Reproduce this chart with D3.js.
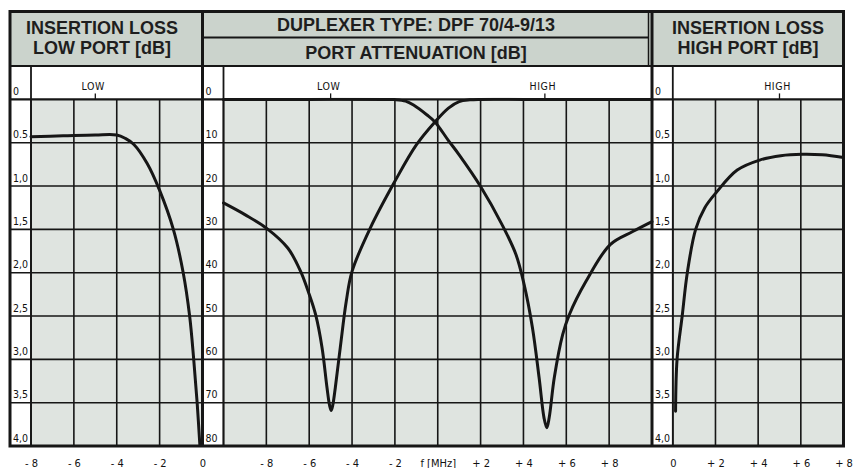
<!DOCTYPE html>
<html><head><meta charset="utf-8">
<script src="https://cdn.jsdelivr.net/npm/d3@7"></script>
<style>
html,body{margin:0;padding:0;background:#fff;}
svg{display:block;}
.ttl{font-family:"Liberation Sans",Arial,sans-serif;font-weight:bold;font-size:18px;fill:#1e1e1e;}
.lbl{font-family:"DejaVu Sans Condensed","DejaVu Sans",sans-serif;font-size:10.5px;fill:#111;}
.mk{font-family:"DejaVu Sans Condensed","DejaVu Sans",sans-serif;font-size:10.5px;fill:#111;letter-spacing:0.6px;}
</style></head>
<body>
<script>
// ---------------- DATA ----------------
const lowXTicks = [-8, -6, -4, -2, 0];
const lowXLabels = ["- 8", "- 6", "- 4", "- 2", "0"];
const midXTicks = [-10, -8, -6, -4, -2, 0, 2, 4, 6, 8, 10];
const midXLabelTicks = [-8, -6, -4, -2, 0, 2, 4, 6, 8];
const midXLabels = ["- 8", "- 6", "- 4", "- 2", "f [MHz]", "+ 2", "+ 4", "+ 6", "+ 8"];
const highXTicks = [0, 2, 4, 6, 8];
const highXLabels = ["0", "+ 2", "+ 4", "+ 6", "+ 8"];

const lossTicks = [0, 0.5, 1, 1.5, 2, 2.5, 3, 3.5, 4];
const lossLowLabels = ["0", "0.5", "1,0", "1,5", "2,0", "2,5", "3,0", "3,5", "4,0"];
const lossHighLabels = ["0", "0,5", "1,0", "1,5", "2,0", "2,5", "3,0", "3,5", "4,0"];
const attTicks = [0, 10, 20, 30, 40, 50, 60, 70, 80];
const attLabels = ["0", "10", "20", "30", "40", "50", "60", "70", "80"];

// insertion loss, low port
const lossLowF  = [-8, -6.5, -5, -4, -3.6, -3.2, -2.58, -2.0, -1.36, -0.9, -0.6, -0.41, -0.25, -0.12];
const lossLowDb = [0.43, 0.42, 0.41, 0.41, 0.45, 0.52, 0.74, 1.05, 1.5, 2.0, 2.5, 3.0, 3.5, 4.0];

// port attenuation, high port (notch at LOW frequency)
const attHighF  = [-10, -9, -8, -7, -6.4, -6, -5.7, -5.4, -5.17, -5.05, -4.97, -4.9, -4.78, -4.55, -4.27, -4, -3.15, -2, -1, -0.13, 0.5, 1, 1.5, 2, 4, 6, 8, 10];
const attHighDb = [23.9, 26.6, 29.7, 34.3, 39.7, 45, 49.7, 57.3, 66.5, 70.6, 71.8, 70.6, 66.5, 57.3, 46.6, 39.7, 29.7, 18.9, 10.5, 5.2, 2.0, 0.5, 0.1, 0, 0, 0, 0, 0];

// port attenuation, low port (notch at HIGH frequency)
const attLowF  = [-10, -6, -2.5, -2, -1.5, -1.13, -0.5, -0.13, 0.5, 1, 2, 3, 3.65, 4.03, 4.42, 4.73, 4.96, 5.09, 5.2, 5.44, 5.83, 6.14, 6.92, 8.05, 9.1, 10];
const attLowDb = [0, 0, 0, 0.05, 0.4, 1.3, 3.6, 5.2, 9.5, 12.8, 20.1, 28.9, 35.8, 42.7, 52.7, 64.2, 73.5, 75.8, 73.5, 64.2, 54.3, 49.7, 42, 33.5, 30.5, 28.2];

// insertion loss, high port
const lossHighF  = [0.13, 0.2, 0.44, 0.68, 1.07, 1.5, 2.05, 3.02, 4.07, 5.06, 6.07, 7.0, 8];
const lossHighDb = [3.6, 3.0, 2.5, 2.0, 1.5, 1.25, 1.07, 0.815, 0.70, 0.65, 0.634, 0.64, 0.67];

// ---------------- LAYOUT ----------------
const W = 853, H = 468;
const yTopFrame = 11.5, yHead = 66, yTop = 99.4, yBot = 446;
const headFill = "#cbd3cc", gridFill = "#dfe4e0", ink = "#161616";

const panels = [
  {x0: 10, lx: 31, x1: 202.5, xd: [-8, 0], yd: [0, 4], xt: lowXTicks, yt: lossTicks, yl: lossLowLabels,
   bt: lowXTicks, bl: lowXLabels, marks: [{f: -5, t: "LOW"}]},
  {x0: 202.5, lx: 223.5, x1: 652, xd: [-10, 10], yd: [0, 80], xt: midXTicks, yt: attTicks, yl: attLabels,
   bt: midXLabelTicks, bl: midXLabels, marks: [{f: -5, t: "LOW"}, {f: 5, t: "HIGH"}]},
  {x0: 652, lx: 672.8, x1: 843.5, xd: [0, 8], yd: [0, 4], xt: highXTicks, yt: lossTicks, yl: lossHighLabels,
   bt: highXTicks, bl: highXLabels, marks: [{f: 5, t: "HIGH"}]}
];

const svg = d3.select("body").append("svg").attr("width", W).attr("height", H);
const defs = svg.append("defs");

panels.forEach((p, i) => {
  p.x = d3.scaleLinear().domain(p.xd).range([p.lx, p.x1]);
  p.y = d3.scaleLinear().domain(p.yd).range([yTop, yBot]);
  p.clip = "clip" + i;
  defs.append("clipPath").attr("id", p.clip).append("rect")
    .attr("x", p.lx - 4).attr("y", yTop - 1.6).attr("width", p.x1 - p.lx + 8).attr("height", yBot - yTop + 1.6);
});

// header fills
svg.append("rect").attr("x", 10).attr("y", yTopFrame).attr("width", 833.5).attr("height", yHead - yTopFrame).attr("fill", headFill);

// grid fills
panels.forEach(p => {
  svg.append("rect").attr("x", p.lx).attr("y", yTop).attr("width", p.x1 - p.lx).attr("height", yBot - yTop).attr("fill", gridFill);
});

// grid lines, labels, axes
panels.forEach(p => {
  const g = svg.append("g").attr("stroke", ink).attr("stroke-width", 1.6).attr("fill", "none");
  g.selectAll(".h").data(p.yt).join("line")
    .attr("x1", p.x0).attr("x2", p.x1).attr("y1", d => p.y(d)).attr("y2", d => p.y(d))
    .attr("stroke-width", (d, i) => i === 0 ? 2.2 : 1.6);
  g.selectAll(".v").data(p.xt).join("line")
    .attr("x1", d => p.x(d)).attr("x2", d => p.x(d)).attr("y1", yTop).attr("y2", yBot);
  g.append("line").attr("x1", p.lx).attr("x2", p.lx).attr("y1", yHead).attr("y2", yBot).attr("stroke-width", 1.8);
  p.marks.forEach(m => {
    g.append("line").attr("x1", p.x(m.f)).attr("x2", p.x(m.f)).attr("y1", yTop - 6).attr("y2", yTop).attr("stroke-width", 1.3);
    svg.append("text").attr("class", "mk").attr("x", p.x(m.f) - 2).attr("y", 89.5)
      .attr("text-anchor", "middle").attr("fill", "#111").text(m.t);
  });
  svg.append("g").selectAll("text").data(p.yt).join("text").attr("class", "lbl").attr("fill", "#111")
    .attr("x", p.x0 + 3).attr("y", d => p.y(d) - 4.5).text((d, i) => p.yl[i]);
  const ax = d3.axisBottom(p.x).tickValues(p.bt).tickFormat((d, i) => p.bl[i]).tickSize(0);
  const ag = svg.append("g").attr("transform", `translate(0,466.5)`).call(ax);
  ag.select(".domain").remove();
  ag.selectAll("text").attr("y", 0).attr("dy", 0).attr("fill", "#111")
    .style("font-family", '"DejaVu Sans Condensed","DejaVu Sans",sans-serif').style("font-size", "11px");
});

// curves
const line = (p) => d3.line().x(d => p.x(d[0])).y(d => p.y(d[1])).curve(d3.curveCatmullRom.alpha(0.5));
const cg = svg.append("g").attr("fill", "none").attr("stroke", ink).attr("stroke-width", 3).attr("stroke-linejoin", "round").attr("stroke-linecap", "round");
cg.append("path").attr("clip-path", `url(#${panels[0].clip})`).attr("d", line(panels[0])(d3.zip(lossLowF, lossLowDb)));
cg.append("path").attr("clip-path", `url(#${panels[1].clip})`).attr("d", line(panels[1])(d3.zip(attHighF, attHighDb)));
cg.append("path").attr("clip-path", `url(#${panels[1].clip})`).attr("d", line(panels[1])(d3.zip(attLowF, attLowDb)));
cg.append("path").attr("clip-path", `url(#${panels[2].clip})`).attr("d", line(panels[2])(d3.zip(lossHighF, lossHighDb)));

// header internal lines, separators & frame
const fg = svg.append("g").attr("stroke", ink).attr("fill", "none");
fg.append("line").attr("x1", 202.5).attr("x2", 648.5).attr("y1", 37.5).attr("y2", 37.5).attr("stroke-width", 2);
fg.append("line").attr("x1", 648.5).attr("x2", 648.5).attr("y1", yTopFrame).attr("y2", yHead).attr("stroke-width", 1.5);
fg.append("line").attr("x1", 10).attr("x2", 843.5).attr("y1", yHead).attr("y2", yHead).attr("stroke-width", 2.2);
fg.append("line").attr("x1", 202.5).attr("x2", 202.5).attr("y1", yTopFrame).attr("y2", yBot).attr("stroke-width", 3);
fg.append("line").attr("x1", 652).attr("x2", 652).attr("y1", yTopFrame).attr("y2", yBot).attr("stroke-width", 3);
fg.append("rect").attr("x", 10).attr("y", yTopFrame).attr("width", 833.5).attr("height", yBot - yTopFrame).attr("stroke-width", 3);

// titles
const titles = [
  {x: 102, y: 33.5, t: "INSERTION LOSS"}, {x: 102, y: 53.5, t: "LOW PORT [dB]"},
  {x: 416, y: 30.7, t: "DUPLEXER TYPE: DPF 70/4-9/13"}, {x: 416, y: 59.3, t: "PORT ATTENUATION [dB]"},
  {x: 748, y: 34.3, t: "INSERTION LOSS"}, {x: 748, y: 54.3, t: "HIGH PORT [dB]"}
];
svg.append("g").selectAll("text").data(titles).join("text").attr("class", "ttl")
  .attr("x", d => d.x).attr("y", d => d.y).attr("text-anchor", "middle").text(d => d.t);
</script>
</body></html>
